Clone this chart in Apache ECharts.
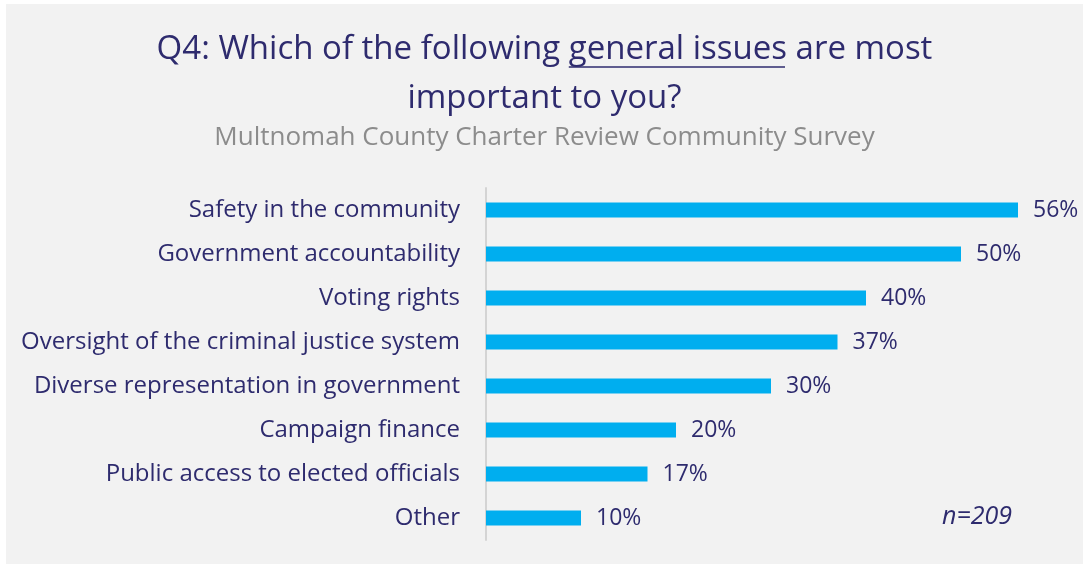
<!DOCTYPE html>
<html>
<head>
<meta charset="utf-8">
<script src="https://cdn.jsdelivr.net/npm/echarts@6/dist/echarts.min.js"></script>
<style>
  html, body { margin: 0; padding: 0; background: #ffffff; }
  #chart { position: absolute; left: 6px; top: 4px; width: 1077px; height: 560px; background: #f2f2f2; }
</style>
</head>
<body>
<div id="chart"></div>
<script>
// Survey responses, listed top to bottom
const categories = [
  'Safety in the community',
  'Government accountability',
  'Voting rights',
  'Oversight of the criminal justice system',
  'Diverse representation in government',
  'Campaign finance',
  'Public access to elected officials',
  'Other'
];
const percents = [56, 50, 40, 37, 30, 20, 17, 10];
const sampleNote = 'n=209';

const titleLine1Pre = 'Q4: Which of the following ';
const titleLine1Under = 'general issues';
const titleLine1Post = ' are most';
const titleLine2 = 'important to you?';
const subtitle = 'Multnomah County Charter Review Community Survey';

const FONT = '"Open Sans", "Noto Sans", sans-serif';
const NAVY = '#2e2b6e';
const TITLE_SIZE = 33;

const el = document.getElementById('chart');
const chart = echarts.init(el, null, { renderer: 'canvas' });
const W = el.clientWidth;

// measure title pieces so the underline sits under "general issues"
const ctx = document.createElement('canvas').getContext('2d');
ctx.font = TITLE_SIZE + 'px ' + FONT;
const fullLine1 = titleLine1Pre + titleLine1Under + titleLine1Post;
const wFull = ctx.measureText(fullLine1).width;
const wPre = ctx.measureText(titleLine1Pre).width;
const wUnder = ctx.measureText(titleLine1Under).width;
const line1Left = W / 2 - wFull / 2;

chart.setOption({
  backgroundColor: 'transparent',
  animation: false,
  textStyle: { fontFamily: FONT },
  grid: { left: 480, right: 27, top: 184, bottom: 24, containLabel: false },
  xAxis: {
    type: 'value', min: 0, max: 60,
    show: false
  },
  yAxis: {
    type: 'category',
    data: categories,
    inverse: true,
    axisLine: { show: true, lineStyle: { color: '#d4d4d4', width: 2 } },
    axisTick: { show: false },
    axisLabel: { color: NAVY, fontSize: 24, margin: 26, fontFamily: FONT }
  },
  series: [{
    type: 'bar',
    data: percents,
    barWidth: 15,
    itemStyle: { color: '#00aeef' },
    label: {
      show: true, position: 'right', distance: 15,
      color: NAVY, fontSize: 23, fontFamily: FONT,
      formatter: p => p.value + '%'
    }
  }],
  graphic: [
    {
      type: 'text', left: 'center', top: 29,
      style: { text: fullLine1, fill: NAVY, font: TITLE_SIZE + 'px ' + FONT }
    },
    {
      type: 'line',
      shape: { x1: line1Left + wPre, y1: 63, x2: line1Left + wPre + wUnder - 2, y2: 63 },
      style: { stroke: NAVY, lineWidth: 1.5 }
    },
    {
      type: 'text', left: 'center', top: 78,
      style: { text: titleLine2, fill: NAVY, font: TITLE_SIZE + 'px ' + FONT }
    },
    {
      type: 'text', left: 'center', top: 121,
      style: { text: subtitle, fill: '#8c8c8c', font: '26px ' + FONT }
    },
    {
      type: 'text', right: 71, top: 500,
      style: { text: sampleNote, fill: NAVY, font: 'italic 25px ' + FONT }
    }
  ]
});
</script>
</body>
</html>
